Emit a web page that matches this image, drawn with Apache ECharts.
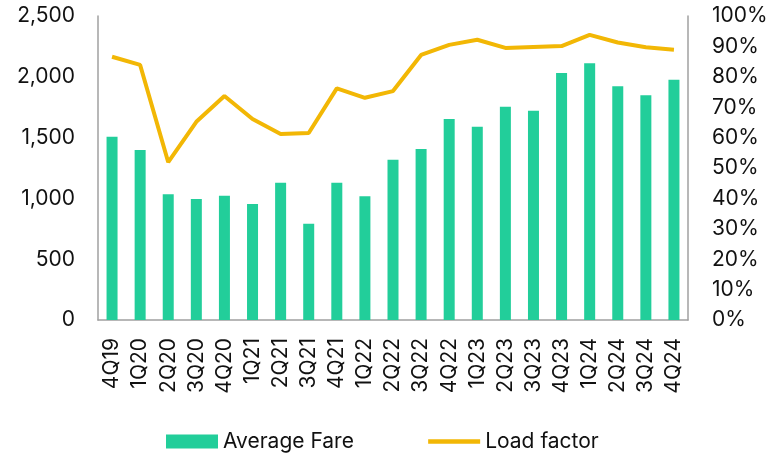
<!DOCTYPE html>
<html>
<head>
<meta charset="utf-8">
<script src="https://cdn.jsdelivr.net/npm/echarts@6/dist/echarts.min.js"></script>
<style>
  html, body { margin: 0; padding: 0; background: #fff; }
  #chart { width: 778px; height: 453px; }
</style>
</head>
<body>
<div id="chart"></div>
<script>
// Quarterly average fare (bars, left axis) vs load factor (line, right axis, %)
const quarters = ['4Q19', '1Q20', '2Q20', '3Q20', '4Q20', '1Q21', '2Q21', '3Q21', '4Q21', '1Q22', '2Q22',
  '3Q22', '4Q22', '1Q23', '2Q23', '3Q23', '4Q23', '1Q24', '2Q24', '3Q24', '4Q24'];
const averageFare = [1507, 1398, 1034, 995, 1022, 954, 1129, 792, 1129, 1017, 1318,
  1406, 1653, 1590, 1754, 1721, 2031, 2111, 1922, 1848, 1976];
const loadFactor = [86.6, 83.9, 51.9, 65.2, 73.7, 66.1, 61.2, 61.5, 76.2, 73.1, 75.3,
  87.2, 90.5, 92.2, 89.5, 89.8, 90.1, 93.8, 91.3, 89.7, 88.9];

const FONT = 'Inter';
const TEXT = '#111111';
const AXIS = '#a0a0a0';
const FARE_COLOR = '#22CE9A';
const LOAD_COLOR = '#F2B705';

const chart = echarts.init(document.getElementById('chart'), null, { renderer: 'canvas' });

chart.setOption({
  animation: false,
  textStyle: { fontFamily: FONT },
  grid: { left: 98, right: 90, top: 16, bottom: 133, containLabel: false },
  legend: {
    top: 426,
    left: 161,
    itemGap: 72,
    itemWidth: 52,
    itemHeight: 14,
    textStyle: { fontFamily: FONT, fontSize: 21, color: TEXT, padding: [0, 0, 0, 0] },
    data: [
      { name: 'Average Fare', icon: 'rect' },
      { name: 'Load factor', itemStyle: { opacity: 0 }, lineStyle: { width: 4.5, color: LOAD_COLOR } },
    ],
  },
  xAxis: {
    type: 'category',
    data: quarters,
    axisLine: { lineStyle: { color: AXIS, width: 1.5 } },
    axisTick: { show: false },
    axisLabel: { rotate: 90, interval: 0, fontSize: 21, color: TEXT, margin: 18, fontFamily: FONT },
  },
  yAxis: [
    {
      type: 'value',
      min: 0,
      max: 2500,
      interval: 500,
      splitLine: { show: false },
      axisLine: { show: true, lineStyle: { color: AXIS, width: 1.5 } },
      axisTick: { show: false },
      axisLabel: {
        fontSize: 21, color: TEXT, margin: 23, fontFamily: FONT,
        formatter: (v) => v.toLocaleString('en-US'),
      },
    },
    {
      type: 'value',
      min: 0,
      max: 100,
      interval: 10,
      splitLine: { show: false },
      axisLine: { show: true, lineStyle: { color: AXIS, width: 1.5 } },
      axisTick: { show: false },
      axisLabel: { fontSize: 21, color: TEXT, margin: 24, fontFamily: FONT, formatter: '{value}%' },
    },
  ],
  series: [
    {
      name: 'Average Fare',
      type: 'bar',
      data: averageFare,
      barWidth: 11,
      itemStyle: { color: FARE_COLOR },
    },
    {
      name: 'Load factor',
      type: 'line',
      yAxisIndex: 1,
      data: loadFactor,
      symbol: 'none',
      lineStyle: { color: LOAD_COLOR, width: 4 },
      itemStyle: { color: LOAD_COLOR },
    },
  ],
});
</script>
</body>
</html>
